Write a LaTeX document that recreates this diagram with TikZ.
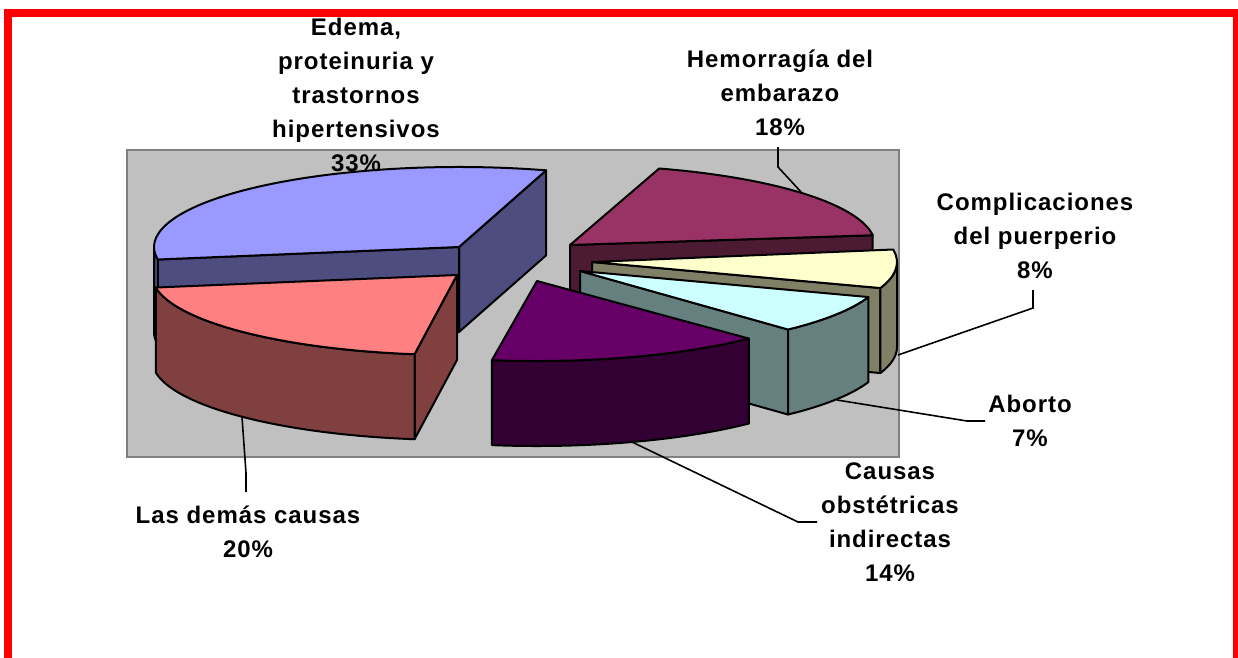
\documentclass[tikz,border=0pt]{standalone}
\usepackage{fontspec}
\setmainfont{Liberation Sans}[LetterSpace=4]
\usetikzlibrary{calc}
\definecolor{plotgray}{HTML}{C0C0C0}
\definecolor{plotedge}{HTML}{808080}
\definecolor{edtopc}{HTML}{9999FF}
\definecolor{edsidec}{HTML}{4D4D80}
\definecolor{rdtopc}{HTML}{FF8080}
\definecolor{rdsidec}{HTML}{804040}
\definecolor{cotopc}{HTML}{660066}
\definecolor{cosidec}{HTML}{330033}
\definecolor{abtopc}{HTML}{CCFFFF}
\definecolor{absidec}{HTML}{668080}
\definecolor{cptopc}{HTML}{FFFFCC}
\definecolor{cpsidec}{HTML}{808066}
\definecolor{hmtopc}{HTML}{993366}
\definecolor{hmsidec}{HTML}{4D1A33}
\definecolor{framered}{HTML}{FF0000}
\tikzset{
  face/.style={draw=black, line width=2pt, line join=round},
  edtop/.style={face, fill=edtopc}, edside/.style={face, fill=edsidec},
  rdtop/.style={face, fill=rdtopc}, rdside/.style={face, fill=rdsidec},
  cotop/.style={face, fill=cotopc}, coside/.style={face, fill=cosidec},
  abtop/.style={face, fill=abtopc}, abside/.style={face, fill=absidec},
  cptop/.style={face, fill=cptopc}, cpside/.style={face, fill=cpsidec},
  hmtop/.style={face, fill=hmtopc}, hmside/.style={face, fill=hmsidec},
  leader/.style={draw=black, line width=1.6pt},
  lbl/.style={anchor=base, inner sep=0pt, font=\fontsize{24}{34}\selectfont\bfseries},
  plotarea/.style={fill=plotgray, draw=plotedge, line width=1.4pt},
  frame/.style={draw=framered, line width=8pt}
}
\begin{document}
\begin{tikzpicture}[x=1pt,y=-1pt]
\useasboundingbox (0,0) rectangle (1238,657);
\clip (0,0) rectangle (1238,657);
\fill[white] (0,0) rectangle (1238,657);
% plot area
\draw[plotarea] (127,150) rectangle (899,457);

% ---------- Hemorragia del embarazo ----------
\coordinate (H) at (570,245);
\draw[hmside] (H) -- ($(H)+(7:305pt and 80pt)$) -- ++(0,85) -- ($(H)+(0,85)$) -- cycle;
\draw[hmtop] (H) -- ($(H)+(7:305pt and 80pt)$) arc[start angle=7,end angle=73,x radius=305pt,y radius=80pt] -- cycle;

% ---------- Complicaciones del puerperio ----------
\coordinate (P) at (592,262);
\draw[cpside] (P) -- ($(P)+(-19:305pt and 80pt)$) -- ++(0,85) -- ($(P)+(0,85)$) -- cycle;
\draw[cpside] ($(P)+(-19:305pt and 80pt)$) arc[start angle=-19,end angle=0,x radius=305pt,y radius=80pt] -- ++(0,85) arc[start angle=0,end angle=-19,x radius=305pt,y radius=80pt] -- cycle;
\draw[cptop] (P) -- ($(P)+(-19:305pt and 80pt)$) arc[start angle=-19,end angle=9,x radius=305pt,y radius=80pt] -- cycle;

% ---------- Aborto ----------
\coordinate (B) at (580,271);
\draw[abside] (B) -- ($(B)+(-47:305pt and 80pt)$) -- ++(0,85) -- ($(B)+(0,85)$) -- cycle;
\draw[abside] ($(B)+(-47:305pt and 80pt)$) arc[start angle=-47,end angle=-19,x radius=305pt,y radius=80pt] -- ++(0,85) arc[start angle=-19,end angle=-47,x radius=305pt,y radius=80pt] -- cycle;
\draw[abtop] (B) -- ($(B)+(-47:305pt and 80pt)$) arc[start angle=-47,end angle=-19,x radius=305pt,y radius=80pt] -- cycle;

% ---------- Causas obstetricas indirectas ----------
\coordinate (C) at (537,281);
\draw[coside] ($(C)+(-98.5:305pt and 80pt)$) arc[start angle=-98.5,end angle=-46,x radius=305pt,y radius=80pt] -- ++(0,85) arc[start angle=-46,end angle=-98.5,x radius=305pt,y radius=80pt] -- cycle;
\draw[cotop] (C) -- ($(C)+(-98.5:305pt and 80pt)$) arc[start angle=-98.5,end angle=-46,x radius=305pt,y radius=80pt] -- cycle;

% ---------- Edema, proteinuria y trastornos hipertensivos ----------
\coordinate (E) at (459,247);
\draw[edside] (E) -- ($(E)+(73.4:305pt and 80pt)$) -- ++(0,85) -- ($(E)+(0,85)$) -- cycle;
\draw[edside] (E) -- ($(E)+(189:305pt and 80pt)$) -- ++(0,85) -- ($(E)+(0,85)$) -- cycle;
\draw[edside] ($(E)+(180:305pt and 80pt)$) arc[start angle=180,end angle=189,x radius=305pt,y radius=80pt] -- ++(0,85) arc[start angle=189,end angle=180,x radius=305pt,y radius=80pt] -- cycle;
\draw[edtop] (E) -- ($(E)+(73.4:305pt and 80pt)$) arc[start angle=73.4,end angle=189,x radius=305pt,y radius=80pt] -- cycle;

% ---------- Las demas causas ----------
\coordinate (L) at (457,275);
\draw[rdside] (L) -- ($(L)+(-98:305pt and 80pt)$) -- ++(0,85) -- ($(L)+(0,85)$) -- cycle;
\draw[rdside] ($(L)+(-171:305pt and 80pt)$) arc[start angle=-171,end angle=-98,x radius=305pt,y radius=80pt] -- ++(0,85) arc[start angle=-98,end angle=-171,x radius=305pt,y radius=80pt] -- cycle;
\draw[rdtop] (L) -- ($(L)+(-171:305pt and 80pt)$) arc[start angle=-171,end angle=-98,x radius=305pt,y radius=80pt] -- cycle;

% ---------- leader lines ----------
\coordinate (ldA) at (242,417); \coordinate (ldB) at (246,473); \coordinate (ldC) at (246,492);
\coordinate (hmA) at (802,193); \coordinate (hmB) at (778,167); \coordinate (hmC) at (778,147);
\coordinate (cpA) at (898,355); \coordinate (cpB) at (1033,308); \coordinate (cpC) at (1033,290);
\coordinate (abA) at (837,400); \coordinate (abB) at (967,421); \coordinate (abC) at (985,421);
\coordinate (coA) at (632,442); \coordinate (coB) at (798,522); \coordinate (coC) at (817,522);
\draw[leader] (ldA) -- (ldB) -- (ldC);
\draw[leader] (hmA) -- (hmB) -- (hmC);
\draw[leader] (cpA) -- (cpB) -- (cpC);
\draw[leader] (abA) -- (abB) -- (abC);
\draw[leader] (coA) -- (coB) -- (coC);

% ---------- labels ----------
\node[lbl] (edema) at (356,35) {\begin{tabular}[t]{@{}c@{}}Edema,\\proteinuria y\\trastornos\\hipertensivos\\33\%\end{tabular}};
\node[lbl] (hemo) at (780,67) {\begin{tabular}[t]{@{}c@{}}Hemorragía del\\embarazo\\18\%\end{tabular}};
\node[lbl] (compl) at (1035,210) {\begin{tabular}[t]{@{}c@{}}Complicaciones\\del puerperio\\8\%\end{tabular}};
\node[lbl] (abort) at (1030,412) {\begin{tabular}[t]{@{}c@{}}Aborto\\7\%\end{tabular}};
\node[lbl] (causas) at (890,479) {\begin{tabular}[t]{@{}c@{}}Causas\\obstétricas\\indirectas\\14\%\end{tabular}};
\node[lbl] (demas) at (248,523) {\begin{tabular}[t]{@{}c@{}}Las demás causas\\20\%\end{tabular}};

% ---------- red frame ----------
\draw[frame] (8,700) -- (8,13) -- (1237,13) -- (1237,700);
\end{tikzpicture}
\end{document}
